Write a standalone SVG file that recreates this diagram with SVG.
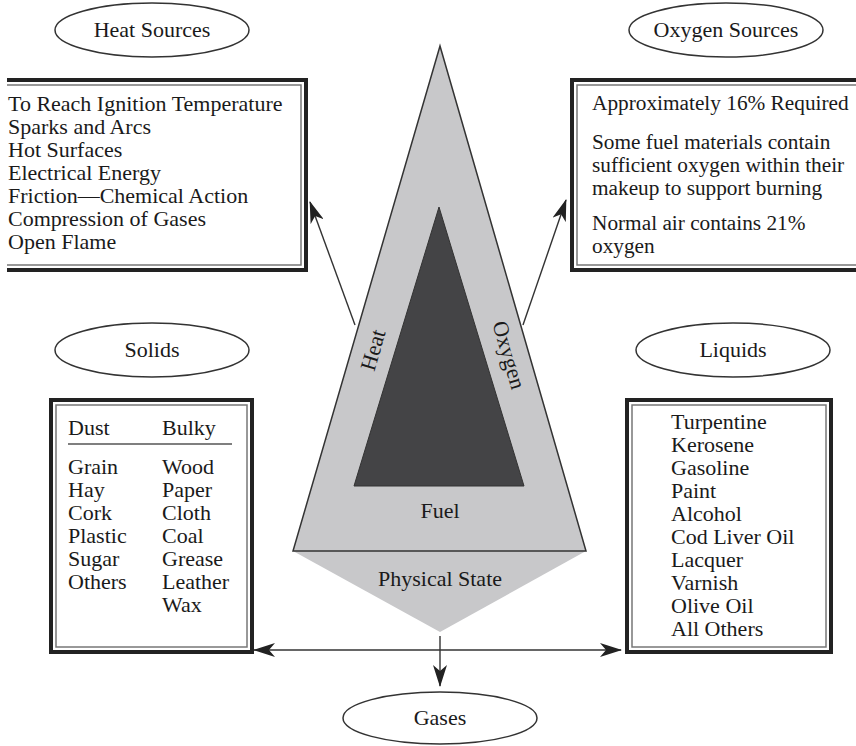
<svg xmlns="http://www.w3.org/2000/svg" width="856" height="746" viewBox="0 0 856 746">
<defs>
<style>
text{font-family:"Liberation Serif","Times New Roman",serif;font-size:22px;fill:#1a1a1a}
.mid{text-anchor:middle}
.sm{font-size:21.3px}
.oval{fill:#fff;stroke:#333;stroke-width:1.5}
.outer{fill:#fff;stroke:#222;stroke-width:4}
.inner{fill:none;stroke:#777;stroke-width:1.5}
.conn{stroke:#333;stroke-width:1.4;fill:none}
</style>
<marker id="ah" viewBox="0 0 22 14" refX="21" refY="7" markerWidth="22" markerHeight="14" markerUnits="userSpaceOnUse" orient="auto">
<path d="M0,0 L22,7 L0,14 L6,7 Z" fill="#222"/>
</marker>
</defs>
<rect width="856" height="746" fill="#fff"/>

<g id="fire-triangle">
<polygon points="293,551 586,551 440,632" fill="#c8c8ca"/>
<polygon points="440,46 293,551 586,551" fill="#c8c8ca" stroke="#333" stroke-width="1.5"/>
<polygon points="439,207 354,486 524,486" fill="#444446" stroke="#333" stroke-width="1"/>
<text class="mid" x="440" y="518">Fuel</text>
<text class="mid" x="440" y="586">Physical State</text>
<text class="mid" transform="translate(380,352) rotate(-73.8)">Heat</text>
<text class="mid" transform="translate(502,357) rotate(73.8)">Oxygen</text>
</g>

<g id="connectors">
<line class="conn" x1="355" y1="325" x2="310" y2="202" marker-end="url(#ah)"/>
<line class="conn" x1="523" y1="325" x2="566" y2="200" marker-end="url(#ah)"/>
<line class="conn" x1="440" y1="650" x2="254" y2="650" marker-end="url(#ah)"/>
<line class="conn" x1="440" y1="650" x2="621" y2="650" marker-end="url(#ah)"/>
<line class="conn" x1="440" y1="636" x2="440" y2="686" marker-end="url(#ah)"/>
</g>

<g id="heat-sources">
<ellipse class="oval" cx="152" cy="30" rx="97" ry="27"/>
<text class="mid" x="152" y="37">Heat Sources</text>
</g>
<g id="heat-box">
<path d="M7,80 H306 V270 H7" fill="#fff" stroke="#222" stroke-width="4"/>
<path d="M7,85 H301 V265 H7" class="inner"/>
<text x="8" y="111">To Reach Ignition Temperature</text>
<text x="8" y="134">Sparks and Arcs</text>
<text x="8" y="157">Hot Surfaces</text>
<text x="8" y="180">Electrical Energy</text>
<text x="8" y="203">Friction—Chemical Action</text>
<text x="8" y="226">Compression of Gases</text>
<text x="8" y="249">Open Flame</text>
</g>

<g id="oxygen-sources">
<ellipse class="oval" cx="726" cy="30" rx="97" ry="27"/>
<text class="mid" x="726" y="37">Oxygen Sources</text>
</g>
<g id="oxygen-box">
<path d="M860,80 H572 V270 H860" fill="#fff" stroke="#222" stroke-width="4"/>
<path d="M860,85 H577 V265 H860" class="inner"/>
<text class="sm" x="592" y="110">Approximately 16% Required</text>
<text class="sm" x="592" y="149">Some fuel materials contain</text>
<text class="sm" x="592" y="172">sufficient oxygen within their</text>
<text class="sm" x="592" y="195">makeup to support burning</text>
<text class="sm" x="592" y="230">Normal air contains 21%</text>
<text class="sm" x="592" y="253">oxygen</text>
</g>

<g id="solids">
<ellipse class="oval" cx="152" cy="350" rx="97" ry="27"/>
<text class="mid" x="152" y="357">Solids</text>
</g>
<g id="solids-box">
<rect class="outer" x="51" y="400" width="201" height="252"/>
<rect class="inner" x="56" y="405" width="191" height="242"/>
<text x="68" y="435">Dust</text>
<text x="162" y="435">Bulky</text>
<line x1="68" y1="444" x2="232" y2="444" stroke="#555" stroke-width="1.3"/>
<text x="68" y="474">Grain</text>
<text x="68" y="497">Hay</text>
<text x="68" y="520">Cork</text>
<text x="68" y="543">Plastic</text>
<text x="68" y="566">Sugar</text>
<text x="68" y="589">Others</text>
<text x="162" y="474">Wood</text>
<text x="162" y="497">Paper</text>
<text x="162" y="520">Cloth</text>
<text x="162" y="543">Coal</text>
<text x="162" y="566">Grease</text>
<text x="162" y="589">Leather</text>
<text x="162" y="612">Wax</text>
</g>

<g id="liquids">
<ellipse class="oval" cx="733" cy="350" rx="97" ry="27"/>
<text class="mid" x="733" y="357">Liquids</text>
</g>
<g id="liquids-box">
<rect class="outer" x="627" y="400" width="204" height="252"/>
<rect class="inner" x="632" y="405" width="194" height="242"/>
<text x="671" y="429">Turpentine</text>
<text x="671" y="452">Kerosene</text>
<text x="671" y="475">Gasoline</text>
<text x="671" y="498">Paint</text>
<text x="671" y="521">Alcohol</text>
<text x="671" y="544">Cod Liver Oil</text>
<text x="671" y="567">Lacquer</text>
<text x="671" y="590">Varnish</text>
<text x="671" y="613">Olive Oil</text>
<text x="671" y="636">All Others</text>
</g>

<g id="gases">
<ellipse class="oval" cx="440" cy="718" rx="97" ry="26"/>
<text class="mid" x="440" y="725">Gases</text>
</g>
</svg>
